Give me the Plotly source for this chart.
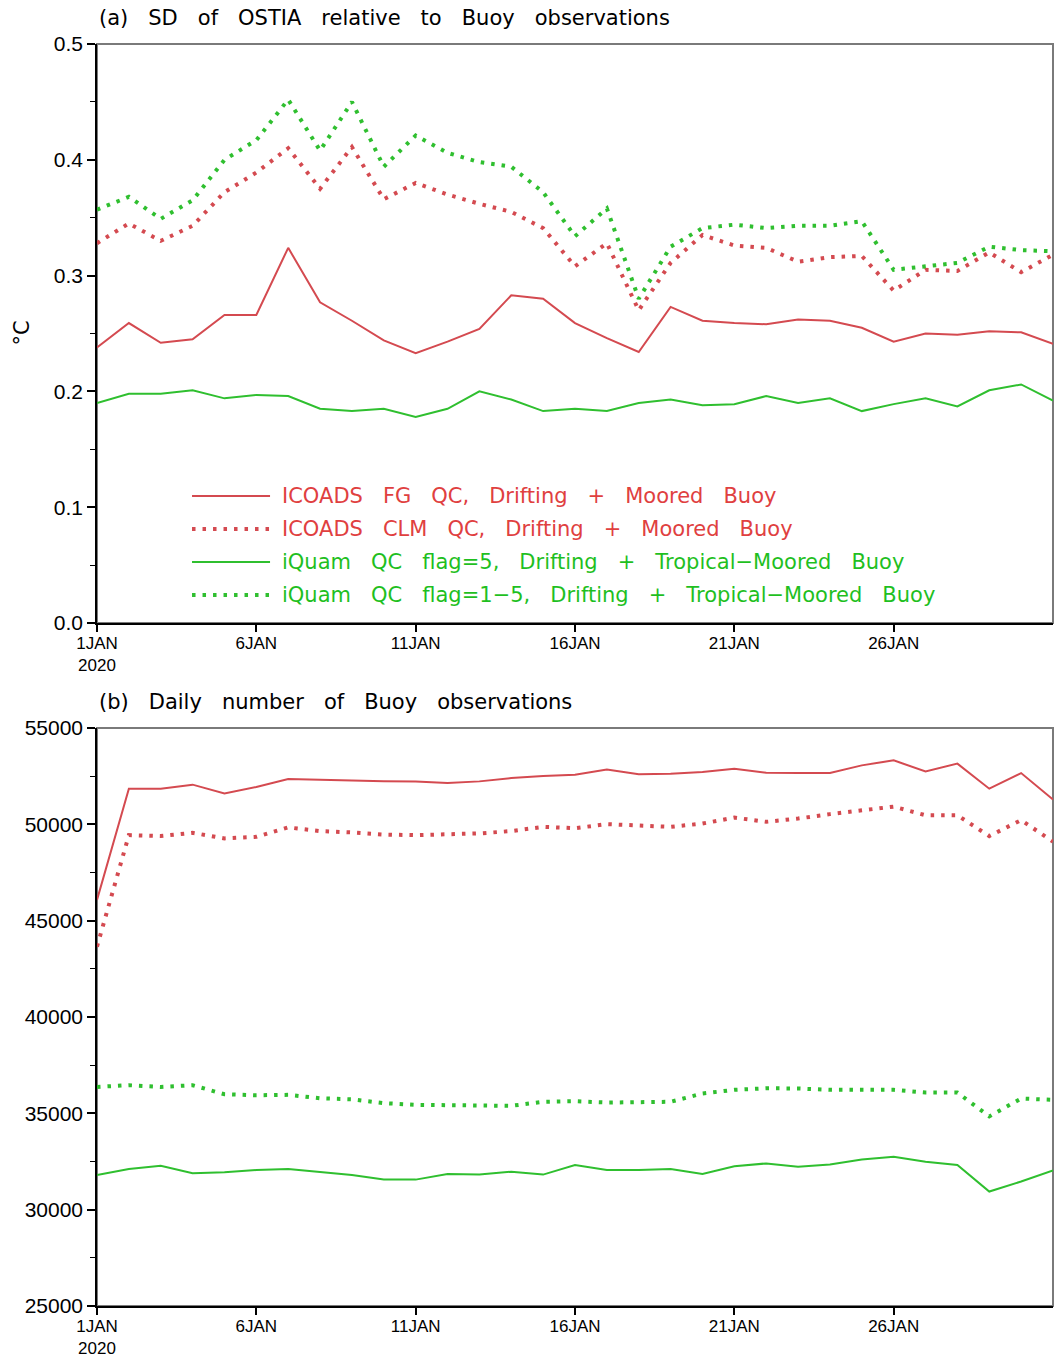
import pandas as pd
import plotly.graph_objects as go

# ---------------------------------------------------------------- data
days = pd.date_range("2020-01-01", "2020-01-31", freq="D")

# (a) standard deviation of OSTIA minus buoy SST (degC)
sd_icoads_fg = [0.238, 0.259, 0.242, 0.245, 0.266, 0.266, 0.324, 0.277, 0.261, 0.244,
                0.233, 0.243, 0.254, 0.283, 0.280, 0.259, 0.246, 0.234, 0.273, 0.261,
                0.259, 0.258, 0.262, 0.261, 0.255, 0.243, 0.250, 0.249, 0.252, 0.251,
                0.241]
sd_icoads_clm = [0.328, 0.345, 0.330, 0.343, 0.372, 0.389, 0.410, 0.375, 0.411, 0.366,
                 0.380, 0.370, 0.362, 0.355, 0.341, 0.308, 0.328, 0.270, 0.311, 0.335,
                 0.326, 0.324, 0.312, 0.316, 0.317, 0.287, 0.305, 0.304, 0.320, 0.303,
                 0.318]
sd_iquam_flag5 = [0.190, 0.198, 0.198, 0.201, 0.194, 0.197, 0.196, 0.185, 0.183, 0.185,
                  0.178, 0.185, 0.200, 0.193, 0.183, 0.185, 0.183, 0.190, 0.193, 0.188,
                  0.189, 0.196, 0.190, 0.194, 0.183, 0.189, 0.194, 0.187, 0.201, 0.206,
                  0.192]
sd_iquam_flag1_5 = [0.357, 0.368, 0.349, 0.365, 0.400, 0.417, 0.452, 0.408, 0.450, 0.394,
                    0.421, 0.406, 0.398, 0.394, 0.372, 0.334, 0.358, 0.280, 0.325, 0.341,
                    0.344, 0.341, 0.343, 0.343, 0.347, 0.305, 0.308, 0.311, 0.325, 0.322,
                    0.321]

# (b) daily number of buoy observations
n_icoads_fg = [46080, 51850, 51850, 52060, 51600, 51940, 52350, 52300, 52280, 52230,
               52220, 52150, 52230, 52400, 52510, 52570, 52840, 52600, 52630, 52720,
               52890, 52680, 52660, 52660, 53060, 53320, 52750, 53150, 51850, 52660,
               51290]
n_icoads_clm = [43650, 49440, 49390, 49560, 49270, 49350, 49840, 49650, 49580, 49470,
                49440, 49460, 49530, 49650, 49870, 49800, 50010, 49940, 49870, 50040,
                50350, 50130, 50300, 50530, 50730, 50920, 50470, 50470, 49390, 50220,
                49100]
n_iquam_flag5 = [31800, 32110, 32280, 31890, 31940, 32060, 32110, 31940, 31800, 31560,
                 31560, 31850, 31820, 31970, 31820, 32320, 32060, 32060, 32110, 31850,
                 32250, 32400, 32230, 32340, 32600, 32750, 32490, 32320, 30940, 31460,
                 32030]
n_iquam_flag1_5 = [36370, 36460, 36370, 36460, 35990, 35940, 35960, 35780, 35730, 35530,
                   35440, 35440, 35440, 35390, 35600, 35630, 35560, 35600, 35600, 36030,
                   36220, 36300, 36290, 36220, 36220, 36220, 36080, 36080, 34840, 35770,
                   35700]

series_names = [
    "ICOADS FG QC, Drifting + Moored Buoy",
    "ICOADS CLM QC, Drifting + Moored Buoy",
    "iQuam QC flag=5, Drifting + Tropical\u2212Moored Buoy",
    "iQuam QC flag=1\u22125, Drifting + Tropical\u2212Moored Buoy",
]
tick_dates = ["2020-01-01", "2020-01-06", "2020-01-11", "2020-01-16", "2020-01-21", "2020-01-26"]
tick_text = ["1JAN<br>2020", "6JAN", "11JAN", "16JAN", "21JAN", "26JAN"]

panel_titles = ["(a) SD of OSTIA relative to Buoy observations",
                "(b) Daily number of Buoy observations"]

# ---------------------------------------------------------------- styles
RED_LINE, RED_TEXT = "#d44a50", "#e0403f"
GREEN_LINE, GREEN_TEXT = "#2fbf2f", "#1fbf1f"
DOT = "3.5px,7px"
styles = [
    dict(color=RED_LINE, width=2, dash="solid"),
    dict(color=RED_LINE, width=4, dash=DOT),
    dict(color=GREEN_LINE, width=2, dash="solid"),
    dict(color=GREEN_LINE, width=4, dash=DOT),
]
text_colors = [RED_TEXT, RED_TEXT, GREEN_TEXT, GREEN_TEXT]

TICK_FONT = "Liberation Sans, Arial, sans-serif"
TEXT_FONT = "DejaVu Sans, sans-serif"


def spaced(s):
    """GrADS-like wide word spacing."""
    return "\u00a0\u00a0\u00a0".join(s.split(" "))


fig = go.Figure()

sd_series = [sd_icoads_fg, sd_icoads_clm, sd_iquam_flag5, sd_iquam_flag1_5]
n_series = [n_icoads_fg, n_icoads_clm, n_iquam_flag5, n_iquam_flag1_5]

for vals, st, name in zip(sd_series, styles, series_names):
    fig.add_trace(go.Scatter(x=days, y=vals, mode="lines", line=st, name=name,
                             xaxis="x", yaxis="y", showlegend=False))
for vals, st, name in zip(n_series, styles, series_names):
    fig.add_trace(go.Scatter(x=days, y=vals, mode="lines", line=st, name=name,
                             xaxis="x2", yaxis="y2", showlegend=False))

xaxis_common = dict(
    type="date", range=["2020-01-01", "2020-01-31"],
    tickmode="array", tickvals=tick_dates, ticktext=tick_text,
    ticks="outside", ticklen=7, tickwidth=1.5, tickcolor="black",
    showline=True, linecolor="black", linewidth=1.5,
    showgrid=False, zeroline=False, automargin=False,
    ticklabelstandoff=-3,
    tickfont=dict(family=TICK_FONT, size=17, color="black"),
)
yaxis_common = dict(
    ticks="outside", ticklen=8, tickwidth=1.5, tickcolor="black",
    showline=True, linecolor="black", linewidth=1.5,
    showgrid=False, zeroline=False, automargin=False,
    tickfont=dict(family=TICK_FONT, size=21, color="black"),
)

fig.update_layout(
    width=1055, height=1358,
    margin=dict(l=97, r=2, t=44, b=52),
    paper_bgcolor="white", plot_bgcolor="white",
    showlegend=False,
    xaxis=dict(**xaxis_common, domain=[0, 1], anchor="y"),
    yaxis=dict(**yaxis_common, domain=[0.5412, 1.0], anchor="x",
               range=[0, 0.5], tick0=0, dtick=0.1, tickformat=".1f",
               minor=dict(dtick=0.05, ticks="outside", ticklen=5,
                          tickwidth=1.2, tickcolor="black")),
    xaxis2=dict(**xaxis_common, domain=[0, 1], anchor="y2"),
    yaxis2=dict(**yaxis_common, domain=[0, 0.458], anchor="x2",
                range=[25000, 55000], tick0=25000, dtick=5000, tickformat="d",
                minor=dict(dtick=2500, ticks="outside", ticklen=5,
                           tickwidth=1.2, tickcolor="black")),
)

shapes = []
annotations = []

# grey frame on top/right of each panel
for xr, yr in [("x domain", "y domain"), ("x2 domain", "y2 domain")]:
    shapes.append(dict(type="rect", xref=xr, yref=yr, x0=0, x1=1, y0=0, y1=1,
                       line=dict(color="#7a7a7a", width=2), layer="below"))

# legend inside panel (a)
legend_rows = [0.2193, 0.1624, 0.1054, 0.0484]
for ypos, st, tc, name in zip(legend_rows, styles, text_colors, series_names):
    shapes.append(dict(type="line", xref="x domain", yref="y domain",
                       x0=0.0994, x1=0.181, y0=ypos, y1=ypos,
                       line=dict(color=st["color"], width=st["width"], dash=st["dash"])))
    annotations.append(dict(xref="x domain", yref="y domain", x=0.1915, y=ypos,
                            xanchor="left", yanchor="middle", showarrow=False,
                            text=spaced(name),
                            font=dict(family=TEXT_FONT, size=21, color=tc)))

# panel titles
for ypos, title in zip([1.0206, 0.4786], panel_titles):
    annotations.append(dict(xref="paper", yref="paper", x=0, y=ypos,
                            xanchor="left", yanchor="middle", showarrow=False,
                            text=spaced(title),
                            font=dict(family=TEXT_FONT, size=21, color="black")))

# y-axis unit of panel (a)
annotations.append(dict(xref="paper", yref="y domain", x=0, y=0.5, xshift=-75,
                        xanchor="center", yanchor="middle", showarrow=False,
                        text="\u00b0C", textangle=-90,
                        font=dict(family=TEXT_FONT, size=21, color="black")))

fig.update_layout(shapes=shapes, annotations=annotations)

fig.write_html("out.html")
